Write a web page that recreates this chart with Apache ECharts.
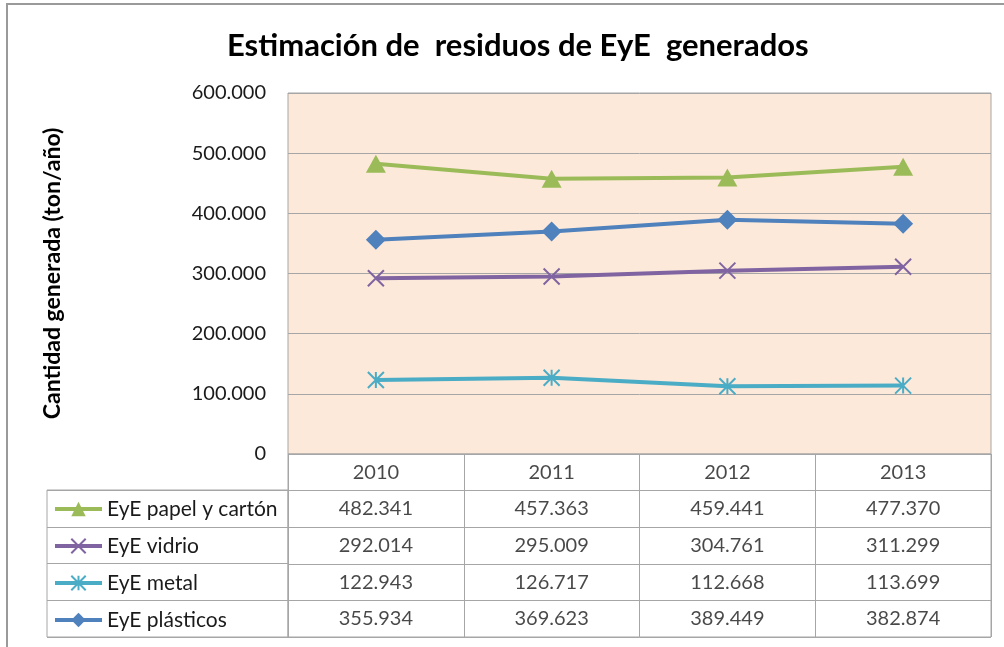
<!DOCTYPE html>
<html>
<head>
<meta charset="utf-8">
<script src="https://cdn.jsdelivr.net/npm/echarts@6/dist/echarts.min.js"></script>
<style>html,body{margin:0;padding:0;background:#fff;}#c{width:1004px;height:647px;}</style>
</head>
<body>
<div id="c"></div>
<script>
const years = ['2010', '2011', '2012', '2013'];
const seriesNames = ['EyE papel y cartón', 'EyE vidrio', 'EyE metal', 'EyE plásticos'];
const papel = [482341, 457363, 459441, 477370];
const vidrio = [292014, 295009, 304761, 311299];
const metal = [122943, 126717, 112668, 113699];
const plasticos = [355934, 369623, 389449, 382874];
const yTicks = [0, 100000, 200000, 300000, 400000, 500000, 600000];

const allValues = [papel, vidrio, metal, plasticos];
const colors = ['#9BBB59', '#8064A2', '#4BACC6', '#4F81BD'];
const symbols = ['triangle', 'path://M0,0L10,10M10,0L0,10', 'path://M5,0L5,10M0,0L10,10M10,0L0,10', 'diamond'];
const symbolSizes = [[20, 18], 16, 16, 20];
const FONT = 'Lato, "Open Sans", sans-serif';

function fmt(v) {
  return String(v).replace(/\B(?=(\d{3})+(?!\d))/g, '.');
}

const chart = echarts.init(document.getElementById('c'), null, {renderer: 'canvas'});

const rowKeys = ['hdr', 'r0', 'r1', 'r2', 'r3'];
const tableData = [];
years.forEach((y, i) => {
  tableData.push({value: [y, 'hdr'], txt: y});
  allValues.forEach((arr, s) => {
    tableData.push({value: [y, 'r' + s], txt: fmt(arr[i])});
  });
});

const lineSeries = seriesNames.map((name, s) => ({
  name: name,
  type: 'line',
  xAxisIndex: 0,
  yAxisIndex: 0,
  data: allValues[s],
  symbol: symbols[s],
  symbolSize: symbolSizes[s],
  showAllSymbol: true,
  lineStyle: {color: colors[s], width: 4},
  itemStyle: {color: colors[s], borderColor: colors[s], borderWidth: (s === 1 || s === 2) ? 2 : 0},
  emphasis: {disabled: true},
  z: 10 - s
}));

const rowCenters = [508.5, 545.5, 582.5, 619.5];
const legends = seriesNames.map((name, s) => ({
  data: [name],
  left: 53,
  top: rowCenters[s] - 10,
  padding: 0,
  itemWidth: 47,
  itemHeight: 18,
  selectedMode: false,
  lineStyle: {width: 4},
  textStyle: {fontFamily: FONT, fontSize: 21, color: '#1a1a1a'}
}));

chart.setOption({
  backgroundColor: '#fff',
  animation: false,
  title: {
    text: 'Estimación de  residuos de EyE  generados',
    left: 222,
    top: 25,
    textStyle: {fontFamily: FONT, fontSize: 31, fontWeight: 'bold', color: '#000'}
  },
  legend: legends,
  graphic: [{
    type: 'rect',
    shape: {x: 7, y: 4, width: 1010, height: 700},
    style: {fill: 'none', stroke: '#9a9a9a', lineWidth: 2},
    silent: true,
    z: 100
  }],
  grid: [
    {left: 288, right: 13, top: 93, bottom: 193, show: true, backgroundColor: '#FDE9D9', borderColor: '#A6A6A6', borderWidth: 1},
    {left: 288, right: 13, top: 454, bottom: 10, show: true, backgroundColor: 'transparent', borderColor: '#A6A6A6', borderWidth: 1},
    {left: 47, width: 241, top: 490, bottom: 10, show: true, backgroundColor: 'transparent', borderColor: '#A6A6A6', borderWidth: 1}
  ],
  xAxis: [
    {gridIndex: 0, type: 'category', data: years, boundaryGap: true,
     axisLine: {show: false}, axisTick: {show: false}, axisLabel: {show: false}, splitLine: {show: false}},
    {gridIndex: 1, type: 'category', data: years, boundaryGap: true,
     axisLine: {show: false}, axisTick: {show: false}, axisLabel: {show: false},
     splitLine: {show: true, lineStyle: {color: '#A6A6A6', width: 1}}},
    {gridIndex: 2, type: 'value', min: 0, max: 1, show: false, splitLine: {show: false}}
  ],
  yAxis: [
    {gridIndex: 0, type: 'value', min: yTicks[0], max: yTicks[yTicks.length - 1], interval: 100000,
     name: 'Cantidad generada (ton/año)', nameLocation: 'middle', nameRotate: 90, nameGap: 224,
     nameTextStyle: {fontFamily: FONT, fontSize: 23, fontWeight: 'bold', color: '#000'},
     axisLine: {show: false}, axisTick: {show: false},
     axisLabel: {margin: 22, fontFamily: FONT, fontSize: 20, color: '#1a1a1a', formatter: v => fmt(v)},
     splitLine: {show: true, lineStyle: {color: '#A6A6A6', width: 1}}},
    {gridIndex: 1, type: 'category', data: rowKeys, inverse: true, boundaryGap: true,
     axisLine: {show: false}, axisTick: {show: false}, axisLabel: {show: false},
     splitLine: {show: true, lineStyle: {color: '#A6A6A6', width: 1}}},
    {gridIndex: 2, type: 'category', data: ['r0', 'r1', 'r2', 'r3'], inverse: true, boundaryGap: true,
     axisLine: {show: false}, axisTick: {show: false}, axisLabel: {show: false},
     splitLine: {show: true, lineStyle: {color: '#A6A6A6', width: 1}}}
  ],
  series: lineSeries.concat([{
    name: 'tabla',
    type: 'scatter',
    xAxisIndex: 1,
    yAxisIndex: 1,
    symbolSize: 1,
    itemStyle: {color: 'rgba(0,0,0,0)'},
    silent: true,
    data: tableData,
    label: {
      show: true,
      position: 'inside',
      fontFamily: FONT,
      fontSize: 20,
      color: '#1a1a1a',
      formatter: p => p.data.txt
    }
  }])
});
</script>
</body>
</html>
